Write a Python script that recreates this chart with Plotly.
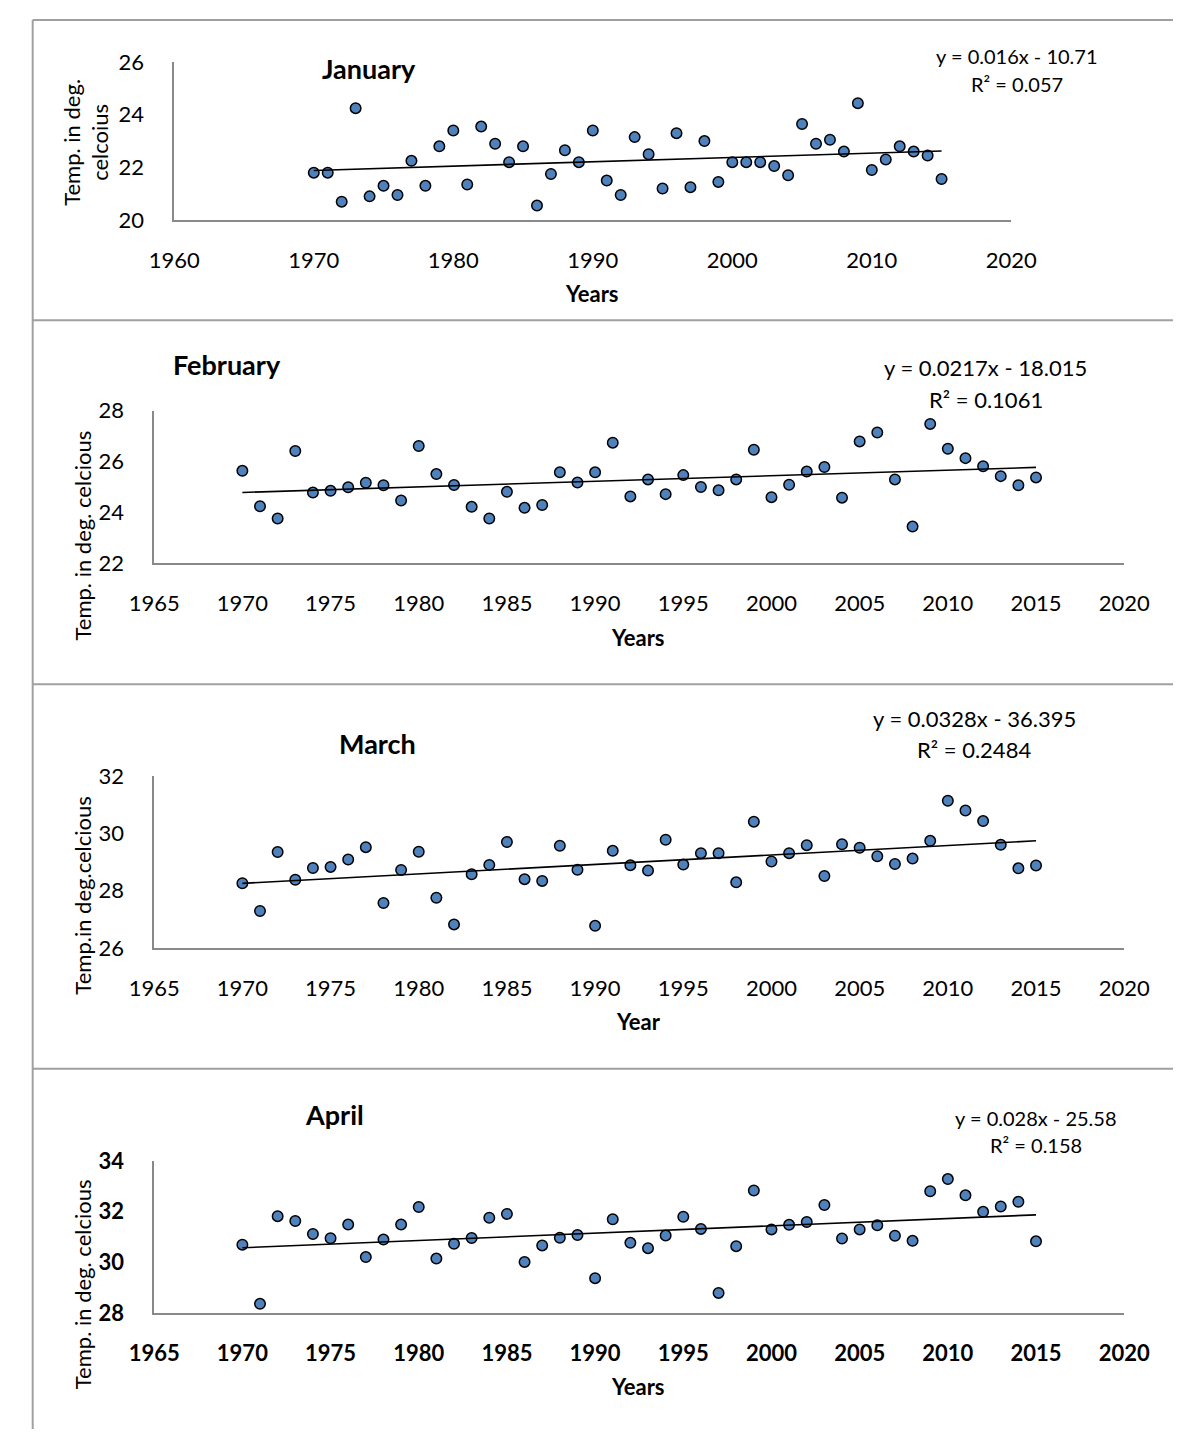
import numpy as np
import plotly.graph_objects as go

W, H = 1199, 1442

years = list(range(1970, 2016))

jan = [21.80, 21.80, 20.70, 24.25, 20.90, 21.30, 20.95, 22.25, 21.30, 22.80,
       23.40, 21.35, 23.55, 22.90, 22.20, 22.80, 20.55, 21.75, 22.65, 22.20,
       23.40, 21.50, 20.95, 23.15, 22.50, 21.20, 23.30, 21.25, 23.00, 21.45,
       22.20, 22.20, 22.20, 22.05, 21.70, 23.65, 22.90, 23.05, 22.60, 24.44,
       21.90, 22.30, 22.80, 22.60, 22.45, 21.56]

feb = [25.63, 24.23, 23.75, 26.41, 24.77, 24.84, 24.98, 25.16, 25.06, 24.46,
       26.61, 25.50, 25.07, 24.21, 23.75, 24.80, 24.17, 24.28, 25.57, 25.17,
       25.57, 26.74, 24.62, 25.29, 24.71, 25.46, 24.99, 24.86, 25.29, 26.46,
       24.59, 25.08, 25.60, 25.78, 24.57, 26.79, 27.14, 25.29, 23.43, 27.48,
       26.50, 26.13, 25.81, 25.42, 25.06, 25.37]

mar = [28.26, 27.29, 29.35, 28.38, 28.79, 28.83, 29.09, 29.52, 27.57, 28.72,
       29.36, 27.75, 26.82, 28.57, 28.90, 29.70, 28.40, 28.34, 29.57, 28.73,
       26.77, 29.39, 28.89, 28.70, 29.78, 28.91, 29.31, 29.31, 28.29, 30.41,
       29.02, 29.31, 29.59, 28.51, 29.62, 29.50, 29.20, 28.93, 29.12, 29.74,
       31.14, 30.80, 30.43, 29.60, 28.78, 28.88]

apr = [30.70, 28.37, 31.82, 31.63, 31.12, 30.95, 31.49, 30.21, 30.90, 31.49,
       32.18, 30.15, 30.73, 30.96, 31.76, 31.91, 30.02, 30.67, 30.97, 31.08,
       29.38, 31.70, 30.77, 30.56, 31.06, 31.80, 31.32, 28.80, 30.64, 32.83,
       31.30, 31.48, 31.59, 32.26, 30.94, 31.30, 31.46, 31.05, 30.85, 32.80,
       33.28, 32.64, 31.99, 32.20, 32.39, 30.83]

month_names = ["January", "February", "March", "April"]
equations = ["y = 0.016x - 10.71", "y = 0.0217x - 18.015",
             "y = 0.0328x - 36.395", "y = 0.028x - 25.58"]
r_squared = ["R² = 0.057", "R² = 0.1061", "R² = 0.2484", "R² = 0.158"]
y_titles = ["Temp. in deg.<br>celcoius", "Temp. in deg. celcious",
            "Temp.in deg.celcious", "Temp. in deg. celcious"]
x_titles = ["Years", "Years", "Year", "Years"]
x_ranges = [[1960, 2020], [1965, 2020], [1965, 2020], [1965, 2020]]
x_dticks = [10, 5, 5, 5]
y_ranges = [[20, 26], [22, 28], [26, 32], [28, 34]]
series = [jan, feb, mar, apr]

# layout (pixel positions in the page)
panels = [
    dict(x0=155, x1=1030, y0=49, y1=210, title=(359, 56), eq=(1036, 43), r2=(1036, 71),
         ytitle=(62, 131), xtitle=(592, 285), bold=False, eqsize=20),
    dict(x0=134, x1=1148, y0=404.3, y1=559.3, title=(210, 357), eq=(1003, 360), r2=(1003, 393),
         ytitle=(59, 531), xtitle=(640, 635), bold=False, eqsize=22),
    dict(x0=134, x1=1148, y0=776.7, y1=951.7, title=(367, 743), eq=(991, 718), r2=(991, 750),
         ytitle=(59, 898), xtitle=(640, 1027), bold=False, eqsize=22),
    dict(x0=134, x1=1148, y0=1168.7, y1=1324, title=(322, 1121), eq=(1056, 1125), r2=(1056, 1153),
         ytitle=(59, 1294), xtitle=(640, 1399), bold=True, eqsize=20),
]

FONT = "Lato"
AXIS_GRAY = "#898989"
FRAME_GRAY = "#a0a0a0"


def px(x):
    return x / W


def py(y):
    return 1 - y / H


fig = go.Figure()
annotations = []
layout_axes = {}

for i, (vals, p) in enumerate(zip(series, panels)):
    n = "" if i == 0 else str(i + 1)
    xa, ya = "x" + n, "y" + n
    fig.add_trace(go.Scatter(
        x=years, y=vals, mode="markers", xaxis=xa, yaxis=ya,
        marker=dict(size=10.5, color="#4F81BD", line=dict(color="black", width=1.5)),
        showlegend=False, hoverinfo="x+y"))
    slope, icpt = np.polyfit(years, vals, 1)
    tx = [years[0], years[-1]]
    fig.add_trace(go.Scatter(
        x=tx, y=[slope * t + icpt for t in tx], mode="lines", xaxis=xa, yaxis=ya,
        line=dict(color="black", width=1.6), showlegend=False, hoverinfo="skip"))

    tickfont = dict(family=FONT, size=22, color="black",
                    weight="bold" if p["bold"] else "normal")
    layout_axes["xaxis" + n] = dict(
        domain=[px(p["x0"]), px(p["x1"])], range=x_ranges[i], dtick=x_dticks[i],
        tick0=x_ranges[i][0], anchor=ya, showline=True, linecolor=AXIS_GRAY, linewidth=1.5,
        showgrid=False, zeroline=False, ticks="outside", ticklen=20,
        tickcolor="rgba(0,0,0,0)", tickfont=tickfont, fixedrange=True)
    layout_axes["yaxis" + n] = dict(
        domain=[py(p["y1"]), py(p["y0"])], range=y_ranges[i], dtick=2,
        tick0=y_ranges[i][0], anchor=xa, showline=True, linecolor=AXIS_GRAY, linewidth=1.5,
        showgrid=False, zeroline=False, ticks="outside", ticklen=24,
        tickcolor="rgba(0,0,0,0)", tickfont=tickfont, fixedrange=True)

    annotations += [
        dict(text="<b>%s</b>" % month_names[i], x=px(p["title"][0]), y=py(p["title"][1]),
             font=dict(family=FONT, size=27, color="black")),
        dict(text=equations[i], x=px(p["eq"][0]), y=py(p["eq"][1]),
             font=dict(family=FONT, size=p["eqsize"], color="black")),
        dict(text=r_squared[i], x=px(p["r2"][0]), y=py(p["r2"][1]),
             font=dict(family=FONT, size=p["eqsize"], color="black")),
        dict(text=y_titles[i], x=px(p["ytitle"][0]), y=py(p["ytitle"][1]), textangle=-90,
             font=dict(family=FONT, size=22, color="black")),
        dict(text="<b>%s</b>" % x_titles[i], x=px(p["xtitle"][0]), y=py(p["xtitle"][1]),
             font=dict(family=FONT, size=22, color="black")),
    ]

for a in annotations:
    a.update(xref="paper", yref="paper", xanchor="center", yanchor="middle", showarrow=False)

shapes = [
    dict(type="line", xref="paper", yref="paper", x0=px(7), x1=px(7), y0=py(6), y1=0,
         line=dict(color=FRAME_GRAY, width=2)),
    dict(type="line", xref="paper", yref="paper", x0=px(7), x1=1, y0=py(6), y1=py(6),
         line=dict(color=FRAME_GRAY, width=2)),
]
for sep in [312, 683, 1075]:
    shapes.append(dict(type="line", xref="paper", yref="paper", x0=px(7), x1=1,
                       y0=py(sep), y1=py(sep), line=dict(color=FRAME_GRAY, width=2)))

fig.update_layout(
    width=W, height=H, margin=dict(l=0, r=0, t=0, b=0),
    paper_bgcolor="white", plot_bgcolor="white",
    font=dict(family=FONT, color="black"),
    annotations=annotations, shapes=shapes, showlegend=False,
    **layout_axes)

fig.write_html(
    "out.html",
    config={"displayModeBar": False, "responsive": False},
    post_script="document.body.style.margin='0';document.body.style.overflow='hidden';",
)
